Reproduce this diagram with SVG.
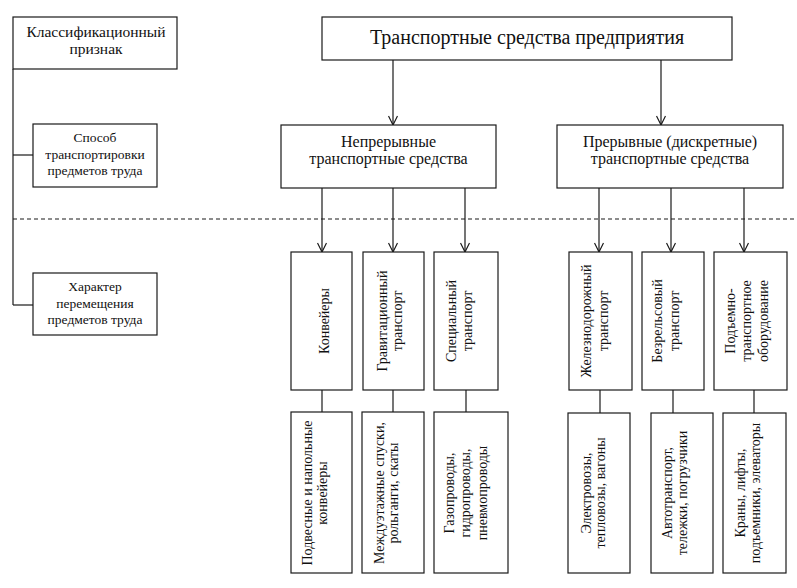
<svg xmlns="http://www.w3.org/2000/svg" width="797" height="588" viewBox="0 0 797 588">
<style>
  .box { fill: #fff; stroke: #1a1a1a; stroke-width: 1.2; }
  .ln { fill: none; stroke: #1a1a1a; stroke-width: 1.2; }
  .dash { fill: none; stroke: #1a1a1a; stroke-width: 1.1; stroke-dasharray: 4 3; }
  text { font-family: "Liberation Serif", "Times New Roman", serif; fill: #111; text-anchor: middle; }
  .t20 { font-size: 20px; }
  .t16 { font-size: 16px; }
  .t155 { font-size: 15.5px; }
  .t135 { font-size: 13.5px; }
  .t14 { font-size: 14px; }
</style>
<defs>
  <marker id="arr" viewBox="0 0 10 10" refX="10" refY="5" markerWidth="10" markerHeight="10" markerUnits="userSpaceOnUse" orient="auto">
    <path d="M1,0.5 L10,5 L1,9.5" fill="none" stroke="#1a1a1a" stroke-width="1.2"/>
  </marker>
</defs>
<rect width="797" height="588" fill="#fff"/>

<g id="connectors">
  <line class="dash" x1="13" y1="219" x2="797" y2="219"/>
  <line class="ln" x1="13" y1="69" x2="13" y2="305"/>
  <line class="ln" x1="13" y1="155" x2="33" y2="155"/>
  <line class="ln" x1="13" y1="305" x2="33" y2="305"/>
  <line class="ln" x1="393" y1="60" x2="393" y2="125" marker-end="url(#arr)"/>
  <line class="ln" x1="661" y1="60" x2="661" y2="125" marker-end="url(#arr)"/>
  <line class="ln" x1="322" y1="188" x2="322" y2="252" marker-end="url(#arr)"/>
  <line class="ln" x1="393" y1="188" x2="393" y2="252" marker-end="url(#arr)"/>
  <line class="ln" x1="465" y1="188" x2="465" y2="252" marker-end="url(#arr)"/>
  <line class="ln" x1="599" y1="188" x2="599" y2="252" marker-end="url(#arr)"/>
  <line class="ln" x1="671" y1="188" x2="671" y2="252" marker-end="url(#arr)"/>
  <line class="ln" x1="744" y1="188" x2="744" y2="252" marker-end="url(#arr)"/>
  <line class="ln" x1="322" y1="390" x2="322" y2="412"/>
  <line class="ln" x1="393" y1="390" x2="393" y2="412"/>
  <line class="ln" x1="466" y1="390" x2="466" y2="412"/>
  <line class="ln" x1="600" y1="390" x2="600" y2="413"/>
  <line class="ln" x1="673" y1="390" x2="673" y2="413"/>
  <line class="ln" x1="754" y1="390" x2="754" y2="413"/>
</g>

<g id="legend-feature">
  <rect class="box" x="13" y="17" width="164" height="52"/>
  <text class="t155"><tspan x="96" y="37">Классификационный</tspan><tspan x="96" y="54">признак</tspan></text>
</g>
<g id="legend-method">
  <rect class="box" x="33" y="124" width="124" height="63"/>
  <text class="t135"><tspan x="95" y="142">Способ</tspan><tspan x="95" y="158.5">транспортировки</tspan><tspan x="95" y="175">предметов труда</tspan></text>
</g>
<g id="legend-character">
  <rect class="box" x="33" y="273" width="124" height="62"/>
  <text class="t135"><tspan x="95" y="291">Характер</tspan><tspan x="95" y="307.5">перемещения</tspan><tspan x="95" y="324">предметов труда</tspan></text>
</g>

<g id="root">
  <rect class="box" x="322" y="17" width="410" height="43"/>
  <text class="t20" x="527" y="44">Транспортные средства предприятия</text>
</g>
<g id="continuous">
  <rect class="box" x="281" y="125" width="215" height="63"/>
  <text class="t16"><tspan x="388.5" y="147">Непрерывные</tspan><tspan x="388.5" y="164">транспортные средства</tspan></text>
</g>
<g id="discrete">
  <rect class="box" x="557" y="125" width="226" height="63"/>
  <text class="t16"><tspan x="670" y="147">Прерывные (дискретные)</tspan><tspan x="670" y="164">транспортные средства</tspan></text>
</g>

<g id="conveyors">
  <rect class="box" x="291" y="252" width="61" height="138"/>
  <text class="t14" transform="translate(0,321) rotate(-90)"><tspan x="0" y="329">Конвейеры</tspan></text>
</g>
<g id="gravity">
  <rect class="box" x="363" y="252" width="61" height="138"/>
  <text class="t14" transform="translate(0,321) rotate(-90)"><tspan x="0" y="387">Гравитационный</tspan><tspan x="0" y="402">транспорт</tspan></text>
</g>
<g id="special">
  <rect class="box" x="434" y="252" width="64" height="138"/>
  <text class="t14" transform="translate(0,321) rotate(-90)"><tspan x="0" y="456">Специальный</tspan><tspan x="0" y="472">транспорт</tspan></text>
</g>
<g id="rail">
  <rect class="box" x="569" y="252" width="63" height="138"/>
  <text class="t14" transform="translate(0,321) rotate(-90)"><tspan x="0" y="591">Железнодорожный</tspan><tspan x="0" y="608">транспорт</tspan></text>
</g>
<g id="trackless">
  <rect class="box" x="642" y="252" width="62" height="138"/>
  <text class="t14" transform="translate(0,321) rotate(-90)"><tspan x="0" y="662">Безрельсовый</tspan><tspan x="0" y="679">транспорт</tspan></text>
</g>
<g id="lifting">
  <rect class="box" x="714" y="252" width="73" height="138"/>
  <text class="t14" transform="translate(0,321) rotate(-90)"><tspan x="0" y="735">Подъемно-</tspan><tspan x="0" y="751">транспортное</tspan><tspan x="0" y="768">оборудование</tspan></text>
</g>

<g id="conveyors-ex">
  <rect class="box" x="291" y="412" width="61" height="161"/>
  <text class="t14" transform="translate(0,493) rotate(-90)"><tspan x="0" y="312">Подвесные и напольные</tspan><tspan x="0" y="327">конвейеры</tspan></text>
</g>
<g id="gravity-ex">
  <rect class="box" x="362" y="412" width="62" height="161"/>
  <text class="t14" transform="translate(0,493) rotate(-90)"><tspan x="0" y="384">Междуэтажные спуски,</tspan><tspan x="0" y="398">рольганги, скаты</tspan></text>
</g>
<g id="special-ex">
  <rect class="box" x="434" y="412" width="74" height="161"/>
  <text class="t14" transform="translate(0,493) rotate(-90)"><tspan x="0" y="454">Газопроводы,</tspan><tspan x="0" y="470">гидропроводы,</tspan><tspan x="0" y="487">пневмопроводы</tspan></text>
</g>
<g id="rail-ex">
  <rect class="box" x="568" y="413" width="62" height="160"/>
  <text class="t14" transform="translate(0,493) rotate(-90)"><tspan x="0" y="591">Электровозы,</tspan><tspan x="0" y="605">тепловозы, вагоны</tspan></text>
</g>
<g id="trackless-ex">
  <rect class="box" x="651" y="413" width="62" height="160"/>
  <text class="t14" transform="translate(0,493) rotate(-90)"><tspan x="0" y="672">Автотранспорт,</tspan><tspan x="0" y="687">тележки, погрузчики</tspan></text>
</g>
<g id="lifting-ex">
  <rect class="box" x="723" y="413" width="63" height="160"/>
  <text class="t14" transform="translate(0,493) rotate(-90)"><tspan x="0" y="745">Краны, лифты,</tspan><tspan x="0" y="760">подъемники, элеваторы</tspan></text>
</g>
</svg>
